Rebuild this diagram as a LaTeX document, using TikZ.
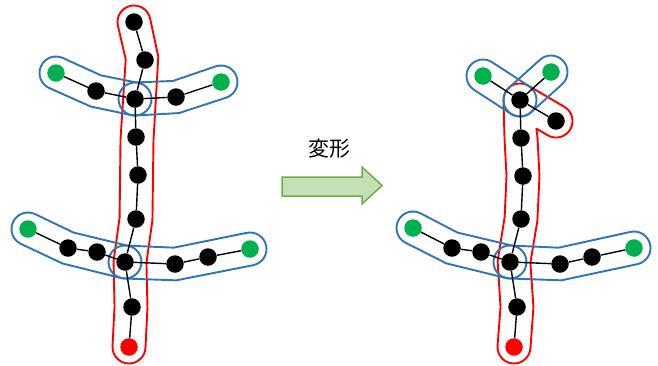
\documentclass[tikz,border=0pt]{standalone}
\usepackage{fontspec}
\newfontfamily\jp{Noto Sans CJK JP}
\usetikzlibrary{calc}
\definecolor{ob}{RGB}{46,117,182}
\definecolor{gn}{RGB}{0,176,80}
\definecolor{afill}{RGB}{197,224,180}
\definecolor{aedge}{RGB}{112,173,71}
% offset points on both sides of an inner vertex (p: left of travel, m: right of travel)
\newcommand\miterpts[4]{%
  \coordinate (#1x) at ($(#3)!16.5pt!90:(#4)$);
  \coordinate (#1y) at ($(#3)!16.5pt!-90:(#2)$);
  \coordinate (#1p) at ($(#1x)!0.5!(#1y)$);
  \coordinate (#1u) at ($(#3)!16.5pt!-90:(#4)$);
  \coordinate (#1v) at ($(#3)!16.5pt!90:(#2)$);
  \coordinate (#1m) at ($(#1u)!0.5!(#1v)$);}
\newcommand\twocap[3]{% colour, P0, P1
  \draw[outl,draw=#1] let \p1=($(#3)-(#2)$), \n1={atan2(\y1,\x1)} in
    ($(#2)+(\n1+90:16.5pt)$) arc[start angle=\n1+90, end angle=\n1+270, radius=16.5pt]
    -- ($(#3)+(\n1-90:16.5pt)$) arc[start angle=\n1-90, end angle=\n1+90, radius=16.5pt]
    -- cycle;}
\newcommand\threecap[5]{% colour, prefix, P0, P1, P2
  \miterpts{#2}{#3}{#4}{#5}
  \draw[outl,draw=#1] let \p1=($(#4)-(#3)$), \n1={atan2(\y1,\x1)},
      \p2=($(#5)-(#4)$), \n2={atan2(\y2,\x2)} in
    ($(#3)+(\n1+90:16.5pt)$) arc[start angle=\n1+90, end angle=\n1+270, radius=16.5pt]
    -- (#2m)
    -- ($(#5)+(\n2-90:16.5pt)$) arc[start angle=\n2-90, end angle=\n2+90, radius=16.5pt]
    -- (#2p) -- cycle;}
\begin{document}
\begin{tikzpicture}[x=1pt,y=-1pt,
  vtx/.style={circle,fill=black,minimum size=17.5pt,inner sep=0pt,draw=none},
  gv/.style={vtx,fill=gn},
  rv/.style={vtx,fill=red},
  edge/.style={line width=1.4pt,black},
  outl/.style={line width=1.9pt,line join=round},
]
\useasboundingbox (0,0) rectangle (658,365);
% ---------- left figure: nodes ----------
\node[vtx] (L1) at (134,22) {};
\node[vtx] (L2) at (145,60) {};
\node[vtx] (LJ1) at (135,99) {};
\node[vtx] (L4) at (136,137) {};
\node[vtx] (L5) at (138,175) {};
\node[vtx] (L6) at (136,219) {};
\node[vtx] (LJ2) at (125,262) {};
\node[vtx] (L8) at (132,307) {};
\node[rv] (Lr) at (129,347) {};
\node[gv] (LgA) at (56,73) {};
\node[vtx] (LbA) at (96,91) {};
\node[vtx] (LbB) at (176,97) {};
\node[gv] (LgB) at (221,82) {};
\node[gv] (LgC) at (28,229) {};
\node[vtx] (LbC) at (68,248) {};
\node[vtx] (LbD) at (97,252) {};
\node[vtx] (LbE) at (175,264) {};
\node[vtx] (LbF) at (208,257) {};
\node[gv] (LgD) at (250,249) {};
% ---------- right figure: nodes ----------
\node[gv] (RgA) at (483,76) {};
\node[gv] (RgB) at (551,72) {};
\node[vtx] (RJ1) at (520,100) {};
\node[vtx] (Rb) at (556,121) {};
\node[vtx] (R4) at (521,138) {};
\node[vtx] (R5) at (523,176) {};
\node[vtx] (R6) at (521,219) {};
\node[vtx] (RJ2) at (510,262) {};
\node[vtx] (R8) at (517,307) {};
\node[rv] (Rr) at (514,347) {};
\node[gv] (RgC) at (413,228) {};
\node[vtx] (RbC) at (452,248) {};
\node[vtx] (RbD) at (481,252) {};
\node[vtx] (RbE) at (560,264) {};
\node[vtx] (RbF) at (592,257) {};
\node[gv] (RgD) at (634,248) {};
% ---------- left figure: outlines ----------
\coordinate (rl0) at (134,22);
\coordinate (rl1) at (142,58);
\coordinate (rl2) at (137,140);
\coordinate (rl3) at (136,219);
\coordinate (rl4) at (130,262);
\coordinate (rl5) at (131,307);
\coordinate (rl6) at (129,347);
\miterpts{l1}{rl0}{rl1}{rl2}
\miterpts{l2}{rl1}{rl2}{rl3}
\miterpts{l3}{rl2}{rl3}{rl4}
\miterpts{l4}{rl3}{rl4}{rl5}
\miterpts{l5}{rl4}{rl5}{rl6}
\draw[outl,draw=red] let \p1=($(rl1)-(rl0)$), \n1={atan2(\y1,\x1)},
    \p2=($(rl6)-(rl5)$), \n2={atan2(\y2,\x2)} in
  ($(rl0)+(\n1+90:16.5pt)$) arc[start angle=\n1+90, end angle=\n1+270, radius=16.5pt]
  -- (l1m) -- (l2m) -- (l3m) -- (l4m) -- (l5m)
  -- ($(rl6)+(\n2-90:16.5pt)$) arc[start angle=\n2-90, end angle=\n2+90, radius=16.5pt]
  -- (l5p) -- (l4p) -- (l3p) -- (l2p) -- (l1p) -- cycle;
\threecap{ob}{bA}{LgA.center}{LbA.center}{LJ1.center}
\threecap{ob}{bB}{LJ1.center}{LbB.center}{LgB.center}
\threecap{ob}{bC}{LgC.center}{LbC.center}{LJ2.center}
\threecap{ob}{bD}{LJ2.center}{LbE.center}{LgD.center}
% ---------- right figure: outlines ----------
\coordinate (rr1) at (520,100);
\coordinate (rr2) at (521,138);
\coordinate (rr3) at (523,176);
\coordinate (rr4) at (521,219);
\coordinate (rr5) at (514,262);
\coordinate (rr6) at (517,307);
\coordinate (rr7) at (514,347);
\miterpts{q2}{rr1}{rr2}{rr3}
\miterpts{q3}{rr2}{rr3}{rr4}
\miterpts{q4}{rr3}{rr4}{rr5}
\miterpts{q5}{rr4}{rr5}{rr6}
\miterpts{q6}{rr5}{rr6}{rr7}
\draw[outl,draw=red] (536.4,128.6) -- (547.7,135.3)
  arc[start angle=-120.3, end angle=59.7, radius=16.5pt]
  -- (528.3,85.7) arc[start angle=59.7, end angle=181.5, radius=16.5pt]
  -- (q2m) -- (q3m) -- (q4m) -- (q5m) -- (q6m)
  -- (497.55,345.77) arc[start angle=175.7, end angle=355.7, radius=16.5pt]
  -- (q6p) -- (q5p) -- (q4p) -- (q3p) -- (q2p) -- cycle;
\twocap{ob}{RgA.center}{RJ1.center}
\twocap{ob}{RgB.center}{RJ1.center}
\threecap{ob}{bG}{RgC.center}{RbC.center}{RJ2.center}
\threecap{ob}{bH}{RJ2.center}{RbE.center}{RgD.center}
% ---------- connectors ----------
\draw[edge] (L1) -- (L2) -- (LJ1) -- (L4) -- (L5) -- (L6) -- (LJ2) -- (L8) -- (Lr);
\draw[edge] (LgA) -- (LbA) -- (LJ1) -- (LbB) -- (LgB);
\draw[edge] (LgC) -- (LbC) -- (LbD) -- (LJ2) -- (LbE) -- (LbF) -- (LgD);
\draw[edge] (Rb) -- (RJ1) -- (R4) -- (R5) -- (R6) -- (RJ2) -- (R8) -- (Rr);
\draw[edge] (RgA) -- (RJ1) -- (RgB);
\draw[edge] (RgC) -- (RbC) -- (RbD) -- (RJ2) -- (RbE) -- (RbF) -- (RgD);
% ---------- arrow and label ----------
\node (lbl) at (329,149) {\jp\fontsize{21}{21}\selectfont 変形};
\draw[fill=afill,draw=aedge,line width=1.5pt,line join=miter]
  (282,177) -- (362,177) -- (362,167) -- (382,185.5) -- (362,204) -- (362,196) -- (282,196) -- cycle;
\end{tikzpicture}
\end{document}
